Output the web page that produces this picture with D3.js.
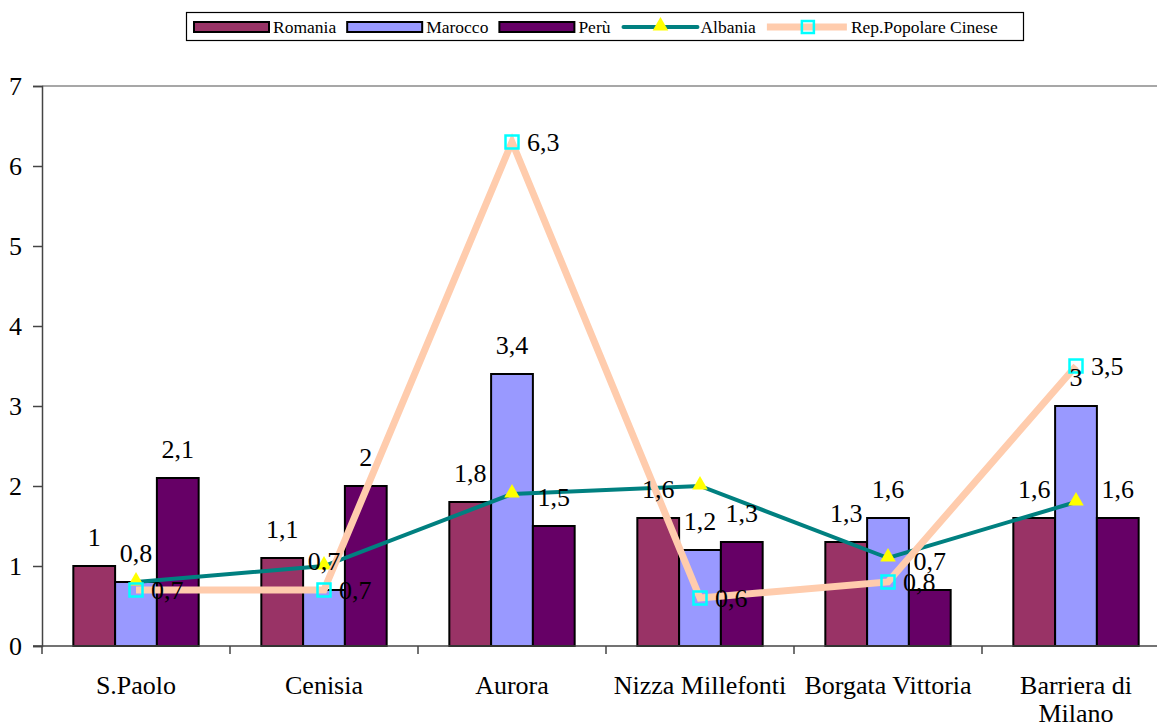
<!DOCTYPE html>
<html>
<head>
<meta charset="utf-8">
<script src="https://cdn.jsdelivr.net/npm/d3@7"></script>
<style>
  html, body { margin: 0; padding: 0; background: #fff; }
  svg { display: block; }
  svg text { font-family: "Liberation Serif", "Times New Roman", Tinos, Times, "DejaVu Serif", serif !important; }
</style>
</head>
<body>
<svg id="chart" width="1157" height="726"></svg>
<script>
// Quartieri
const categories = ["S.Paolo", "Cenisia", "Aurora", "Nizza Millefonti", "Borgata Vittoria", "Barriera di Milano"];

// Bar series
const romania = [1, 1.1, 1.8, 1.6, 1.3, 1.6];
const marocco = [0.8, 0.7, 3.4, 1.2, 1.6, 3];
const peru    = [2.1, 2, 1.5, 1.3, 0.7, 1.6];

// Line series
const albania = [0.8, 1.0, 1.9, 2.0, 1.1, 1.8];
const cinese  = [0.7, 0.7, 6.3, 0.6, 0.8, 3.5];

const yTicks = [0, 1, 2, 3, 4, 5, 6, 7];

const barSeries = [
  { name: "Romania", values: romania, color: "#993366" },
  { name: "Marocco", values: marocco, color: "#9999FF" },
  { name: "Perù",    values: peru,    color: "#660066" }
];

const FONT = "'Liberation Serif', 'Times New Roman', Tinos, Times, 'DejaVu Serif', serif";
const FS = 26;
const svg = d3.select("#chart").attr("font-family", FONT);
const plotLeft = 42, plotTop = 86, plotBottom = 646, bandW = 188;
const plotRight = plotLeft + bandW * categories.length;

const x = d3.scaleBand().domain(categories).range([plotLeft, plotRight]).padding(0);
const xSub = d3.scaleBand().domain(barSeries.map(s => s.name))
  .range([x.bandwidth() / 6, x.bandwidth() * 5 / 6]).padding(0);
const y = d3.scaleLinear().domain([0, 7]).range([plotBottom, plotTop]);
const fmt = v => String(v).replace(".", ",");

// plot area top border
svg.append("line").attr("x1", plotLeft).attr("x2", 1157).attr("y1", plotTop).attr("y2", plotTop)
  .attr("stroke", "#8a8a8a").attr("stroke-width", 1.5);

// bars
barSeries.forEach(s => {
  svg.append("g").selectAll("rect").data(categories).join("rect")
    .attr("x", (c) => x(c) + xSub(s.name))
    .attr("y", (c, i) => y(s.values[i]))
    .attr("width", xSub.bandwidth())
    .attr("height", (c, i) => y(0) - y(s.values[i]))
    .attr("fill", s.color)
    .attr("stroke", "#000").attr("stroke-width", 2);
});

// y axis
const yAxis = d3.axisLeft(y).tickValues(yTicks).tickSize(9).tickPadding(11).tickFormat(d => d);
const gy = svg.append("g").attr("transform", `translate(${plotLeft},0)`).call(yAxis)
  .attr("font-family", FONT).attr("font-size", FS);
gy.select(".domain").attr("stroke", "#444").attr("stroke-width", 1.5);
gy.selectAll(".tick line").attr("stroke", "#444").attr("stroke-width", 1.5);
gy.selectAll(".tick text").attr("fill", "#000");

// x axis line + boundary ticks
svg.append("line").attr("x1", plotLeft - 9).attr("x2", 1157).attr("y1", y(0)).attr("y2", y(0))
  .attr("stroke", "#444").attr("stroke-width", 1.5);
const bounds = categories.map(c => x(c)).concat([plotRight]);
svg.append("g").selectAll("line").data(bounds).join("line")
  .attr("x1", d => d).attr("x2", d => d)
  .attr("y1", y(0)).attr("y2", y(0) + 8)
  .attr("stroke", "#444").attr("stroke-width", 1.5);

// category labels (wrap long names onto two lines)
const xl = svg.append("g").attr("font-size", FS).attr("text-anchor", "middle");
categories.forEach(c => {
  const lines = c === "Barriera di Milano" ? ["Barriera di", "Milano"] : [c];
  const t = xl.append("text").attr("x", x(c) + x.bandwidth() / 2).attr("y", 694);
  lines.forEach((ln, k) => {
    t.append("tspan").attr("x", x(c) + x.bandwidth() / 2).attr("dy", k === 0 ? 0 : 28).text(ln);
  });
});

const cx = c => x(c) + x.bandwidth() / 2;

// Albania line
svg.append("path")
  .datum(albania)
  .attr("d", d3.line().x((d, i) => cx(categories[i])).y(d => y(d)))
  .attr("fill", "none").attr("stroke", "#008080").attr("stroke-width", 4);
svg.append("g").selectAll("path").data(albania).join("path")
  .attr("d", d3.symbol(d3.symbolTriangle, 105))
  .attr("transform", (d, i) => `translate(${cx(categories[i])},${y(d) - 1})`)
  .attr("fill", "#FFFF00");

// Rep. Popolare Cinese line
svg.append("path")
  .datum(cinese)
  .attr("d", d3.line().x((d, i) => cx(categories[i])).y(d => y(d)))
  .attr("fill", "none").attr("stroke", "#FFCCAD").attr("stroke-width", 7)
  .attr("stroke-linejoin", "miter");
svg.append("g").selectAll("rect").data(cinese).join("rect")
  .attr("x", (d, i) => cx(categories[i]) - 6.5)
  .attr("y", d => y(d) - 6.5)
  .attr("width", 13).attr("height", 13)
  .attr("fill", "none").attr("stroke", "#00FFFF").attr("stroke-width", 2.5);

// data labels
const lbl = svg.append("g").attr("font-size", FS).attr("fill", "#000");
barSeries.forEach(s => {
  categories.forEach((c, i) => {
    lbl.append("text")
      .attr("x", x(c) + xSub(s.name) + xSub.bandwidth() / 2)
      .attr("y", y(s.values[i]) - 20)
      .attr("text-anchor", "middle")
      .text(fmt(s.values[i]));
  });
});
cinese.forEach((v, i) => {
  lbl.append("text")
    .attr("x", cx(categories[i]) + 15)
    .attr("y", y(v) + 9)
    .text(fmt(v));
});

// legend
const lg = svg.append("g");
lg.append("rect").attr("x", 186.5).attr("y", 12.5).attr("width", 837).attr("height", 28)
  .attr("fill", "#fff").attr("stroke", "#000").attr("stroke-width", 1.2);
const legendItems = [
  { name: "Romania", type: "bar", color: "#993366" },
  { name: "Marocco", type: "bar", color: "#9999FF" },
  { name: "Perù", type: "bar", color: "#660066" },
  { name: "Albania", type: "teal" },
  { name: "Rep.Popolare Cinese", type: "peach" }
];
let lx = 194;
const ly = 27;
legendItems.forEach(it => {
  if (it.type === "bar") {
    lg.append("rect").attr("x", lx).attr("y", ly - 5).attr("width", 75).attr("height", 10)
      .attr("fill", it.color).attr("stroke", "#000").attr("stroke-width", 2);
  } else if (it.type === "teal") {
    lg.append("line").attr("x1", lx + 2).attr("x2", lx + 76).attr("y1", ly).attr("y2", ly)
      .attr("stroke", "#008080").attr("stroke-width", 4).attr("stroke-linecap", "round");
    lg.append("path").attr("d", d3.symbol(d3.symbolTriangle, 105))
      .attr("transform", `translate(${lx + 39},${ly - 1})`).attr("fill", "#FFFF00");
  } else {
    lg.append("line").attr("x1", lx).attr("x2", lx + 80).attr("y1", ly).attr("y2", ly)
      .attr("stroke", "#FFCCAD").attr("stroke-width", 7);
    lg.append("rect").attr("x", lx + 35).attr("y", ly - 6).attr("width", 12).attr("height", 12)
      .attr("fill", "none").attr("stroke", "#00FFFF").attr("stroke-width", 2.5);
  }
  const tx = lx + (it.type === "peach" ? 84 : 79);
  const t = lg.append("text").attr("x", tx).attr("y", ly + 6).attr("font-size", 17.5).text(it.name);
  lx = tx + t.node().getComputedTextLength() + 11;
});
</script>
</body>
</html>
